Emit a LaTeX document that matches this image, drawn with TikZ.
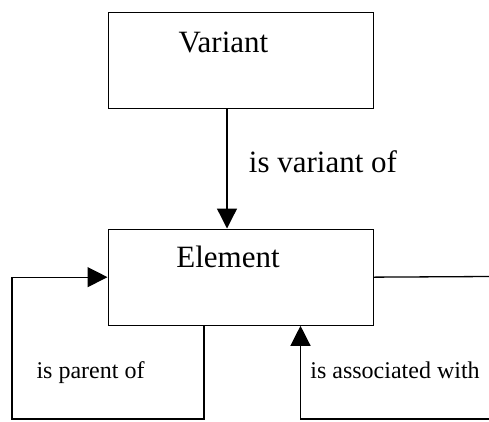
\documentclass[tikz,border=0pt]{standalone}
\usepackage{fontspec}
\setmainfont{Liberation Serif}
\usetikzlibrary{arrows.meta}
\begin{document}
\begin{tikzpicture}[x=1pt,y=-1pt,
  box/.style={draw,line width=1.3pt,minimum width=265pt,minimum height=96pt,inner sep=0pt,anchor=north west},
  bigtext/.style={font=\fontsize{31}{36}\selectfont,anchor=base,inner sep=0pt},
  smalltext/.style={font=\fontsize{24}{28}\selectfont,anchor=base,inner sep=0pt},
  conn/.style={line width=1.3pt},
  arr/.style={conn,-{Triangle[length=20pt,width=20pt]}}]
\useasboundingbox (0,0) rectangle (489,421);
\node[box] (variant) at (107.5,12) {};
\node[box] (element) at (107.5,228.5) {};
\node[bigtext] (vtext) at (223.5,52) {Variant};
\node[bigtext] (etext) at (228,267) {Element};
\node[bigtext] (lvar) at (323,172) {is variant of};
\node[smalltext] (lpar) at (90.5,378) {is parent of};
\node[smalltext] (lass) at (395,378) {is associated with};
\coordinate (re) at (489,276.5);
\coordinate (be) at (489,419);
\draw[arr] ([xshift=119.5pt]variant.south west) -- ([xshift=119.5pt]element.north west);
\draw[arr] ([xshift=96.5pt]element.south west) |- (12,419) |- (element.west);
\draw[conn] (element.east) -- (re);
\draw[arr] (be) -| ([xshift=193pt]element.south west);
\end{tikzpicture}
\end{document}
